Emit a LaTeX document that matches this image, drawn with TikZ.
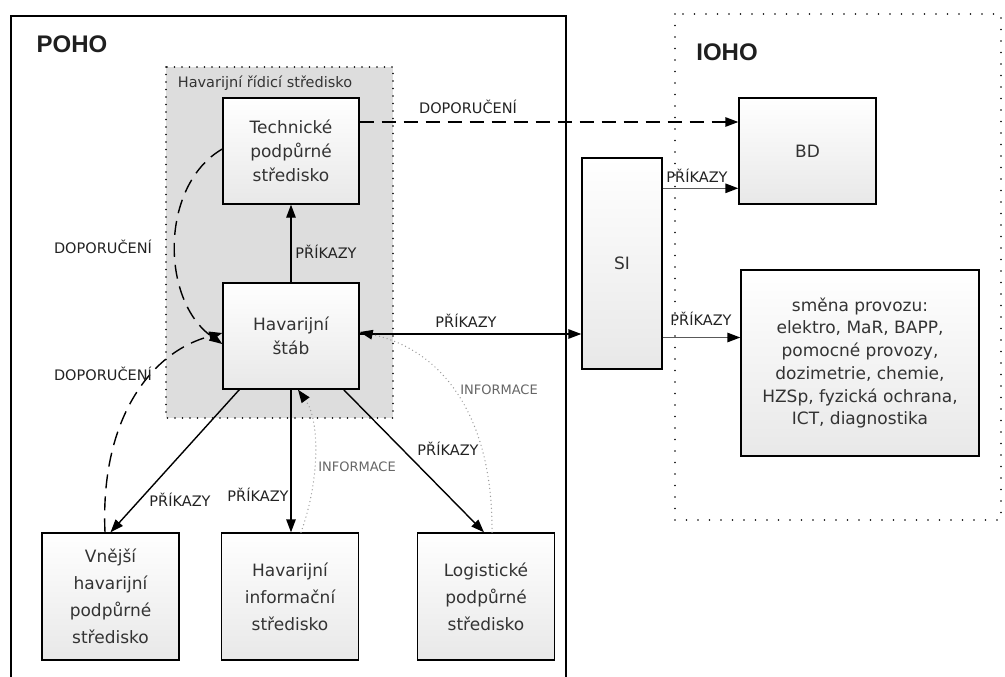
\documentclass[tikz,border=0pt]{standalone}
\usepackage{fontspec}
\setmainfont{DejaVu Sans}
\newfontfamily\arialf{Liberation Sans}
\usetikzlibrary{arrows.meta,calc}
\definecolor{boxtext}{HTML}{333333}
\definecolor{regiongray}{HTML}{DDDDDD}
\definecolor{infogray}{HTML}{9A9A9A}
\definecolor{lbltext}{HTML}{222222}
\begin{document}
\begin{tikzpicture}[x=1pt,y=-1pt,
  box/.style={draw=black,line width=1.4pt,top color=white,bottom color=gray!18,text=boxtext,align=center,font=\fontsize{17}{24}\selectfont,inner sep=0pt},
  lowbox/.style={box,font=\fontsize{17}{27}\selectfont,minimum width=137pt,minimum height=127pt},
  lbl/.style={font=\fontsize{14.5}{17}\selectfont,text=lbltext,inner sep=0pt},
  infolbl/.style={font=\fontsize{13}{16}\selectfont,text=black!60,inner sep=0pt},
  title/.style={font=\arialf\bfseries\fontsize{24}{28}\selectfont,text=black!88,inner sep=0pt},
  tip/.style={-{Triangle[length=13pt,width=9.5pt,color=black]}},
  solidarr/.style={tip,line width=1.4pt},
  greyarr/.style={tip,line width=1.4pt,draw=black!65},
  dasharr/.style={tip,line width=1.4pt,dash pattern=on 14pt off 8pt},
  dotarr/.style={tip,line width=1.4pt,draw=infogray,dash pattern=on 0pt off 4pt,line cap=round},
]
\useasboundingbox (0,0) rectangle (1005,677);
\fill[white] (0,0) rectangle (1005,677);

% POHO frame (open at the bottom)
\coordinate (pbl) at (11,680);
\coordinate (ptl) at (11,16);
\coordinate (ptr) at (566,16);
\coordinate (pbr) at (566,680);
\draw[line width=1.4pt] (pbl) -- (ptl) -- (ptr) -- (pbr);

% IOHO frame
\coordinate (ioa) at (675,14);
\coordinate (iob) at (1001,520);
\draw[line width=1.8pt,dash pattern=on 0pt off 11.5pt,line cap=round] (ioa) rectangle (iob);

% control centre region
\coordinate (rga) at (166,67);
\coordinate (rgb) at (393,418);
\draw[fill=regiongray,line width=1.6pt,dash pattern=on 0pt off 7.5pt,line cap=round] (rga) rectangle (rgb);

% titles
\node[title] (poho) at (72,44) {POHO};
\node[title] (ioho) at (727,52) {IOHO};
\node[font=\fontsize{14.5}{17}\selectfont,text=boxtext,inner sep=0pt] (hrs) at (265,83) {Havarijní řídicí středisko};

% boxes
\node[box,minimum width=136pt,minimum height=106pt] (tps) at (291,151) {Technické\\podpůrné\\středisko};
\node[box,minimum width=136pt,minimum height=106pt] (hs) at (291,336) {Havarijní\\štáb};
\node[box,minimum width=137pt,minimum height=106pt] (bd) at (807.5,151) {BD};
\node[box,minimum width=80pt,minimum height=211pt] (si) at (622,263.5) {SI};
\node[box,font=\fontsize{17}{22.7}\selectfont,minimum width=238pt,minimum height=186pt] (smena) at (860,363) {směna provozu:\\elektro, MaR, BAPP,\\pomocné provozy,\\dozimetrie, chemie,\\HZSp, fyzická ochrana,\\ICT, diagnostika};
\node[lowbox] (vn) at (110.5,596.5) {Vnější\\havarijní\\podpůrné\\středisko};
\node[lowbox] (his) at (290,596.5) {Havarijní\\informační\\středisko};
\node[lowbox] (log) at (486,596.5) {Logistické\\podpůrné\\středisko};

% connectors
\draw[dasharr] ([yshift=29pt]tps.east) -- ([yshift=29pt]bd.west);
\node[lbl] (l1) at (468,107) {DOPORUČENÍ};

\draw[solidarr] (hs.north) -- (tps.south);
\node[lbl] (l2) at (326,252) {PŘÍKAZY};

\draw[solidarr] ([yshift=2pt]hs.east) -- ([yshift=2pt]hs.east -| si.west);
\node[lbl] (l3) at (466,321) {PŘÍKAZY};

\coordinate (sbd) at ([yshift=-31pt]si.north east);
\draw[greyarr] (sbd) -- (sbd -| bd.west);
\node[lbl] (l4) at (697,176) {PŘÍKAZY};

\coordinate (ssm) at ([yshift=-1.5pt]hs.east -| si.east);
\draw[greyarr] (ssm) -- (ssm -| smena.west);
\node[lbl] (l5) at (701,319) {PŘÍKAZY};

\draw[solidarr] ([xshift=17pt]hs.south west) -- (vn.north);
\node[lbl] (l6) at (180,500) {PŘÍKAZY};

\draw[solidarr] (hs.south) -- (hs.south |- his.north);
\node[lbl] (l7) at (258,495) {PŘÍKAZY};

\draw[solidarr] ([xshift=-16pt]hs.south east) -- ([xshift=-2pt]log.north);
\node[lbl] (l8) at (448,449) {PŘÍKAZY};

\draw[dotarr] ([xshift=6pt]log.north) .. controls (493,420) and (445,350) .. ([yshift=4pt]hs.east);
\node[infolbl] (l9) at (499,390) {INFORMACE};

\draw[dotarr] ([xshift=11pt]his.north) .. controls (320,480) and (320,420) .. ([xshift=7pt]hs.south);
\node[infolbl] (l10) at (357,467) {INFORMACE};

\draw[dasharr] ([yshift=2pt]tps.west) .. controls (160,185) and (160,300) .. ([yshift=-8pt]hs.west);
\node[lbl] (l11) at (103,247) {DOPORUČENÍ};

\draw[dasharr] ([xshift=-5.5pt]vn.north) .. controls (100,420) and (150,352) .. ([yshift=3pt]hs.west);
\node[lbl] (l12) at (103,374) {DOPORUČENÍ};
\end{tikzpicture}
\end{document}
